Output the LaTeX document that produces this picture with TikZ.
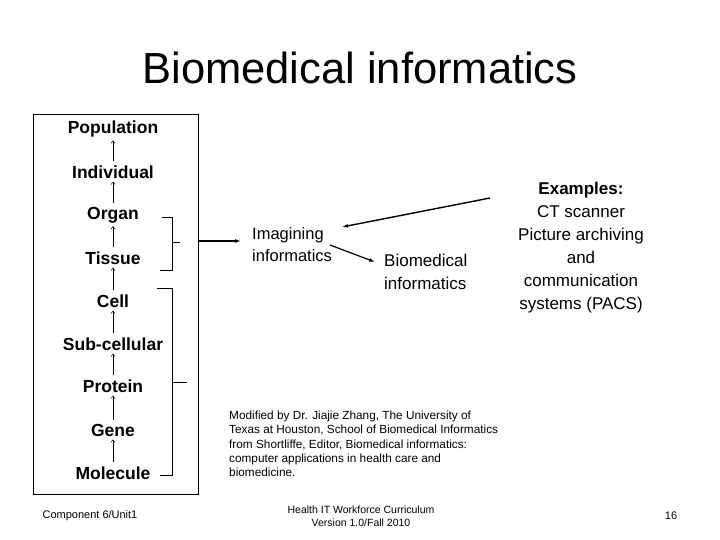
\documentclass[tikz,border=0pt]{standalone}
\usepackage{fontspec}
\setmainfont{Liberation Sans}
\usetikzlibrary{arrows.meta}
\begin{document}
\begin{tikzpicture}[x=1pt,y=-1pt,
 lvl/.style={font=\bfseries\fontsize{17.5}{20}\selectfont,inner sep=1pt},
 up/.style={-{Straight Barb[length=2.5pt,width=4pt]},line width=0.5pt,shorten <=3pt,shorten >=2pt},
 arr/.style={-{Latex[length=6pt,width=4pt]},line width=1.4pt},
 brace/.style={line width=0.7pt}]
\useasboundingbox (0,0) rectangle (720,540);
\node[font=\fontsize{43.5}{48}\selectfont] (title) at (360,68) {Biomedical informatics};
\draw[line width=0.8pt] (33,114) rectangle (198,494);
\foreach \n/\t/\y in {a/Population/129,b/Individual/172,c/Organ/215,d/Tissue/258,e/Cell/301,f/Sub-cellular/344,g/Protein/386,h/Gene/430,i/Molecule/473}
  \node[lvl] (\n) at (113,\y) {\t};
\foreach \p/\q in {b/a,c/b,d/c,e/d,f/e,g/f,h/g,i/h}
  \draw[up] (\p) -- (\q);
% braces
\draw[brace] (162,217) -- (172,217) -- (172,270) -- (160,270);
\coordinate (bt1) at (180,242);
\draw[brace] (172,242) -- (bt1);
\draw[brace] (157,288) -- (172,288) -- (172,475) -- (160,475);
\coordinate (bt2) at (187,382);
\draw[brace] (172,382) -- (bt2);
\coordinate (boxr) at (198,241);
\coordinate (imgl) at (241,241);
\draw[arr] (boxr) -- (imgl);
\node[align=left,font=\fontsize{16.5}{22}\selectfont,anchor=west,inner sep=0pt] (img) at (252,245) {Imagining\\informatics};
\node[align=left,font=\fontsize{17}{23}\selectfont,anchor=west,inner sep=0pt] (bio) at (384,272) {Biomedical\\informatics};
\node[align=center,font=\fontsize{17}{23}\selectfont] (ex) at (581,248) {\textbf{Examples:}\\CT scanner\\Picture archiving\\and\\communication\\systems (PACS)};
\coordinate (exs) at (490,198);
\coordinate (imge) at (342,227);
\draw[arr] (exs) -- (imge);
\coordinate (imgs) at (330,245);
\coordinate (bioe) at (375,262);
\draw[arr,line width=1.2pt] (imgs) -- (bioe);
\node[align=left,anchor=north west,font=\fontsize{11.8}{14.2}\selectfont,inner sep=0pt] (mod) at (229,411) {Modified by Dr. Jiajie Zhang, The University of\\Texas at Houston, School of Biomedical Informatics\\from Shortliffe, Editor, Biomedical informatics:\\computer applications in health care and\\biomedicine.};
\node[font=\fontsize{11}{13}\selectfont] (comp) at (90,516) {Component 6/Unit1};
\node[align=center,font=\fontsize{10.5}{13}\selectfont] (hit) at (361,516) {Health IT Workforce Curriculum\\Version 1.0/Fall 2010};
\node[font=\fontsize{11}{13}\selectfont] (pg) at (671,516) {16};
\end{tikzpicture}
\end{document}
